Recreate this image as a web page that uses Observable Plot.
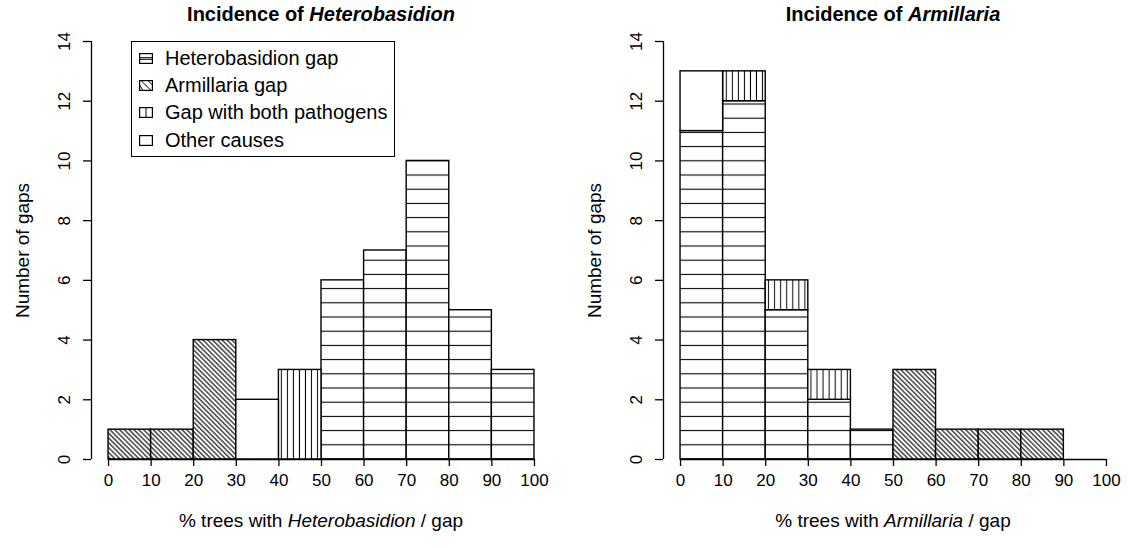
<!DOCTYPE html>
<html>
<head>
<meta charset="utf-8">
<script src="https://cdn.jsdelivr.net/npm/d3@7"></script>
<script src="https://cdn.jsdelivr.net/npm/@observablehq/plot@0.6"></script>
<style>
  html, body { margin: 0; padding: 0; background: #fff; }
  body { font-family: "Liberation Sans", Arial, Helvetica, sans-serif; color: #000; }
  #wrap { position: relative; width: 1128px; height: 548px; overflow: hidden; }
  .panel { position: absolute; top: 0; width: 556px; height: 548px; }
  .title { position: absolute; top: 3px; width: 460px; text-align: center; font-weight: bold; font-size: 20px; line-height: 22px; }
  .xlab { position: absolute; top: 510px; width: 460px; text-align: center; font-size: 19px; line-height: 22px; }
  .legend { position: absolute; left: 131px; top: 41px; width: 262px; height: 114px; border: 1.3px solid #000; background: #fff; box-sizing: content-box; }
  .legend .row { position: absolute; left: 7px; height: 27px; display: flex; align-items: center; font-size: 20px; white-space: nowrap; }
  .legend svg { margin-right: 12px; }
</style>
</head>
<body>
<div id="wrap"></div>
<script>
// ---- data ----
const binStarts = [0, 10, 20, 30, 40, 50, 60, 70, 80, 90];
const binWidth = 10;
const categories = ["Heterobasidion gap", "Armillaria gap", "Gap with both pathogens", "Other causes"];
const xTicks = [0, 10, 20, 30, 40, 50, 60, 70, 80, 90, 100];
const yTicks = [0, 2, 4, 6, 8, 10, 12, 14];

// Left panel: % trees with Heterobasidion per gap
const hetPanelHeterobasidion = [0, 0, 0, 0, 0, 6, 7, 10, 5, 3];
const hetPanelArmillaria     = [1, 1, 4, 0, 0, 0, 0, 0, 0, 0];
const hetPanelBoth           = [0, 0, 0, 0, 3, 0, 0, 0, 0, 0];
const hetPanelOther          = [0, 0, 0, 2, 0, 0, 0, 0, 0, 0];

// Right panel: % trees with Armillaria per gap
const armPanelHeterobasidion = [11, 12, 5, 2, 1, 0, 0, 0, 0, 0];
const armPanelArmillaria     = [0, 0, 0, 0, 0, 3, 1, 1, 1, 0];
const armPanelBoth           = [0, 1, 1, 1, 0, 0, 0, 0, 0, 0];
const armPanelOther          = [2, 0, 0, 0, 0, 0, 0, 0, 0, 0];

// ---- helpers ----
const FONT = "Liberation Sans, Arial, Helvetica, sans-serif";
const patternKey = {
  "Heterobasidion gap": "hh",
  "Armillaria gap": "hd",
  "Gap with both pathogens": "hv",
  "Other causes": "none"
};

function rowsFor(series) {
  const rows = [];
  categories.forEach((cat, ci) => {
    binStarts.forEach((b, bi) => {
      rows.push({x1: b, x2: b + binWidth, n: series[ci][bi], cat});
    });
  });
  return rows;
}

function patternDefs(sfx) {
  return `
  <pattern id="hh-${sfx}" patternUnits="userSpaceOnUse" x="0" y="451.9" width="20" height="14.2">
    <rect width="20" height="14.2" fill="#fff"/>
    <line x1="0" x2="20" y1="7.1" y2="7.1" stroke="#000" stroke-width="1.1"/>
  </pattern>
  <pattern id="hv-${sfx}" patternUnits="userSpaceOnUse" x="0" y="0" width="6.05" height="20">
    <rect width="6.05" height="20" fill="#fff"/>
    <line x1="3" x2="3" y1="0" y2="20" stroke="#000" stroke-width="1"/>
  </pattern>
  <pattern id="hd-${sfx}" patternUnits="userSpaceOnUse" x="0" y="0" width="3.4" height="10" patternTransform="rotate(-45)">
    <rect width="3.4" height="10" fill="#fff"/>
    <line x1="1.7" x2="1.7" y1="0" y2="10" stroke="#000" stroke-width="1.1"/>
  </pattern>`;
}

function makePanel(series, sfx) {
  const rows = rowsFor(series);
  const fillFor = d => patternKey[d.cat] === "none" ? "#fff" : `url(#${patternKey[d.cat]}-${sfx})`;
  const plot = Plot.plot({
    width: 556,
    height: 548,
    marginLeft: 91,
    marginRight: 5,
    marginTop: 41,
    marginBottom: 89,
    x: {domain: [-4, 104], axis: null},
    y: {domain: [0, 14], axis: null},
    color: {type: "identity"},
    style: {fontFamily: FONT, background: "#fff", color: "#000", overflow: "visible"},
    marks: [
      Plot.rectY(rows, {x1: "x1", x2: "x2", y: "n", z: "cat", fill: fillFor, stroke: "#000", strokeWidth: 1.4}),
      // x axis
      Plot.ruleY([0], {x1: 0, x2: 100, stroke: "#000", strokeWidth: 1.4}),
      Plot.axisX({ticks: xTicks, tickSize: 7, tickPadding: 7, fontSize: 17, label: null, strokeWidth: 1.3}),
      // y axis
      Plot.ruleX([-4], {y1: 0, y2: 14, stroke: "#000", strokeWidth: 1.3}),
      Plot.axisY({ticks: yTicks, tickSize: 8, tickFormat: () => "", label: null, strokeWidth: 1.3}),
      Plot.text(yTicks, {y: d => d, frameAnchor: "left", dx: -22, rotate: -90, text: d => String(d),
        textAnchor: "middle", lineAnchor: "bottom", fontSize: 17}),
      Plot.text(["Number of gaps"], {frameAnchor: "left", dx: -69, rotate: -90, text: d => d,
        textAnchor: "middle", lineAnchor: "middle", fontSize: 19})
    ]
  });
  d3.select(plot).insert("defs", ":first-child").html(patternDefs(sfx));
  return plot;
}

function swatch(kind) {
  const ns = "http://www.w3.org/2000/svg";
  const w = 14, h = 11;
  let inner = `<rect x="0.6" y="0.6" width="${w - 1.2}" height="${h - 1.2}" fill="#fff" stroke="#000" stroke-width="1.2"/>`;
  if (kind === "hh") inner += `<line x1="0.6" x2="${w - 0.6}" y1="${h / 2 - 0.8}" y2="${h / 2 - 0.8}" stroke="#000" stroke-width="1"/><line x1="0.6" x2="${w - 0.6}" y1="${h / 2 + 0.8}" y2="${h / 2 + 0.8}" stroke="#000" stroke-width="1"/>`;
  if (kind === "hv") inner += `<line x1="${w / 2}" x2="${w / 2}" y1="0.6" y2="${h - 0.6}" stroke="#000" stroke-width="1"/>`;
  if (kind === "hd") inner += `<line x1="2" x2="${w - 2}" y1="0.6" y2="${h - 0.6}" stroke="#000" stroke-width="1"/><line x1="0.6" x2="4" y1="5" y2="${h - 0.6}" stroke="#000" stroke-width="1"/><line x1="${w - 5}" x2="${w - 0.6}" y1="0.6" y2="5" stroke="#000" stroke-width="1"/>`;
  return `<svg xmlns="${ns}" width="${w}" height="${h}" viewBox="0 0 ${w} ${h}">${inner}</svg>`;
}

const wrap = document.getElementById("wrap");

function addPanel(left, series, sfx, titleHtml, xlabHtml, withLegend) {
  const div = document.createElement("div");
  div.className = "panel";
  div.style.left = left + "px";
  div.appendChild(makePanel(series, sfx));
  const t = document.createElement("div");
  t.className = "title";
  t.style.left = (321 - 230) + "px";
  t.innerHTML = titleHtml;
  div.appendChild(t);
  const xl = document.createElement("div");
  xl.className = "xlab";
  xl.style.left = (321 - 230) + "px";
  xl.innerHTML = xlabHtml;
  div.appendChild(xl);
  if (withLegend) {
    const lg = document.createElement("div");
    lg.className = "legend";
    categories.forEach((cat, i) => {
      const r = document.createElement("div");
      r.className = "row";
      r.style.top = (3 + i * 27.2) + "px";
      r.innerHTML = swatch(patternKey[cat]) + `<span>${cat}</span>`;
      lg.appendChild(r);
    });
    div.appendChild(lg);
  }
  wrap.appendChild(div);
}

addPanel(0,
  [hetPanelHeterobasidion, hetPanelArmillaria, hetPanelBoth, hetPanelOther], "L",
  "Incidence of <i>Heterobasidion</i>",
  "% trees with <i>Heterobasidion</i> / gap", true);
addPanel(572,
  [armPanelHeterobasidion, armPanelArmillaria, armPanelBoth, armPanelOther], "R",
  "Incidence of <i>Armillaria</i>",
  "% trees with <i>Armillaria</i> / gap", false);
</script>
</body>
</html>
